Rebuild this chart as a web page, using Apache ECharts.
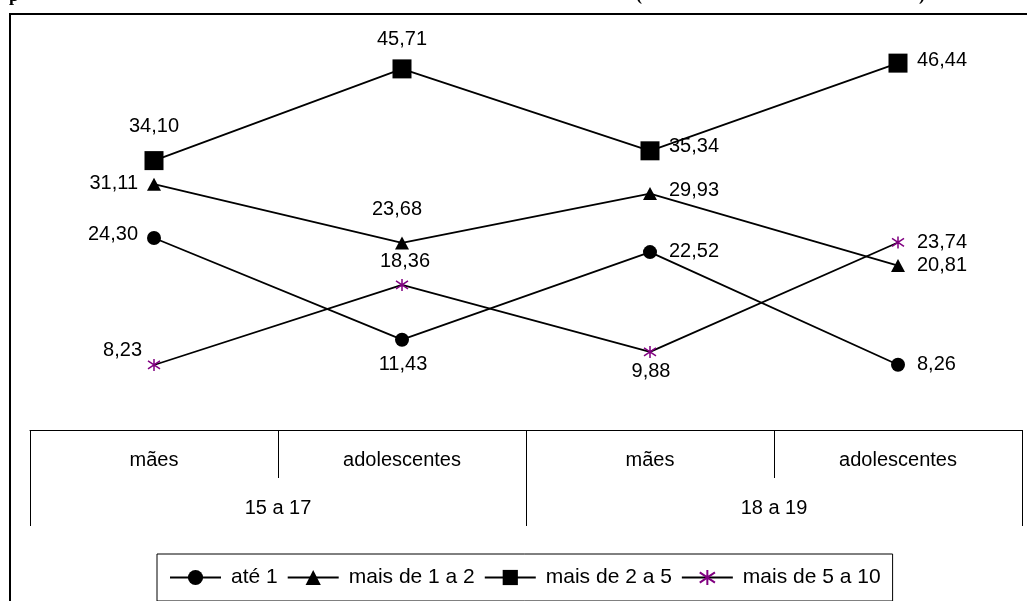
<!DOCTYPE html>
<html>
<head>
<meta charset="utf-8">
<script src="https://cdn.jsdelivr.net/npm/echarts@6/dist/echarts.min.js"></script>
<style>html,body{margin:0;padding:0;background:#fff;}#c{width:1027px;height:601px;}</style>
</head>
<body>
<div id="c"></div>
<script>
// ---- data ----
const categories = ['mães', 'adolescentes', 'mães', 'adolescentes'];
const groups = ['15 a 17', '18 a 19'];
const seriesNames = ['até 1', 'mais de 1 a 2', 'mais de 2 a 5', 'mais de 5 a 10'];
const ate1 = [24.30, 11.43, 22.52, 8.26];
const de1a2 = [31.11, 23.68, 29.93, 20.81];
const de2a5 = [34.10, 45.71, 35.34, 46.44];
const de5a10 = [8.23, 18.36, 9.88, 23.74];

// ---- label placement (style only) ----
const placeAte1 = [{a:'right',dx:-16,dy:-4},{a:'center',dx:1,dy:25},{a:'left',dx:19,dy:-1},{a:'left',dx:19,dy:0}];
const place1a2 = [{a:'right',dx:-16,dy:-1},{a:'center',dx:-5,dy:-33},{a:'left',dx:19,dy:-3},{a:'left',dx:19,dy:0}];
const place2a5 = [{a:'center',dx:0,dy:-34},{a:'center',dx:0,dy:-29},{a:'left',dx:19,dy:-4},{a:'left',dx:19,dy:-3}];
const place5a10 = [{a:'right',dx:-12,dy:-14},{a:'center',dx:3,dy:-23},{a:'center',dx:1,dy:20},{a:'left',dx:19,dy:0}];

const FONT = 'Liberation Sans, Arial, sans-serif';
const fmt = v => v.toFixed(2).replace('.', ',');

function buildData(values, places) {
  return values.map((v, i) => ({
    value: v,
    label: { align: places[i].a, offset: [places[i].dx, places[i].dy] }
  }));
}

function mkSeries(name, values, places, symbol, size, itemStyle) {
  return {
    name: name,
    type: 'line',
    data: buildData(values, places),
    symbol: symbol,
    symbolSize: size,
    showAllSymbol: true,
    lineStyle: { color: '#000', width: 1.8 },
    itemStyle: itemStyle,
    label: {
      show: true,
      position: 'inside',
      verticalAlign: 'middle',
      color: '#000',
      fontFamily: FONT,
      fontSize: 20,
      formatter: p => fmt(p.value)
    },
    emphasis: { disabled: true },
    animation: false
  };
}

const chart = echarts.init(document.getElementById('c'), null, { renderer: 'canvas' });
chart.setOption({
  backgroundColor: '#fff',
  animation: false,
  grid: { left: 30, right: 5, top: 35, bottom: 171, containLabel: false },
  xAxis: [
    {
      type: 'category',
      data: categories,
      position: 'bottom',
      boundaryGap: true,
      axisLine: { show: true, lineStyle: { color: '#000', width: 1 } },
      axisTick: { show: true, interval: 0, length: 48, lineStyle: { color: '#000', width: 1 } },
      axisLabel: { interval: 0, margin: 20, color: '#000', fontFamily: FONT, fontSize: 20 },
      splitLine: { show: false }
    },
    {
      type: 'category',
      data: groups,
      position: 'bottom',
      boundaryGap: true,
      axisLine: { show: false },
      axisTick: { show: true, interval: 0, length: 96, lineStyle: { color: '#000', width: 1 } },
      axisLabel: { interval: 0, margin: 68, color: '#000', fontFamily: FONT, fontSize: 20 },
      splitLine: { show: false }
    }
  ],
  yAxis: {
    type: 'value', min: 0, max: 50, show: false, splitLine: { show: false }
  },
  legend: {
    left: 157,
    top: 554,
    orient: 'horizontal',
    padding: [13, 12, 13, 12],
    borderColor: '#000',
    borderWidth: 1,
    itemWidth: 51,
    itemHeight: 19,
    itemGap: 9,
    textStyle: { color: '#000', fontFamily: FONT, fontSize: 21, padding: [0, 5, 0, 5] },
    data: seriesNames
  },
  graphic: [
    {
      type: 'polyline',
      shape: { points: [[10, 601], [10, 14], [1027, 14]] },
      style: { stroke: '#000', lineWidth: 2, fill: null },
      silent: true
    },
    { type: 'text', x: 9, y: -4, style: { text: 'p', font: 'bold 18px Liberation Serif, serif', fill: '#000', verticalAlign: 'middle' }, silent: true },
    { type: 'text', x: 636, y: -5, style: { text: '(', font: 'bold 18px Liberation Serif, serif', fill: '#000', verticalAlign: 'middle' }, silent: true },
    { type: 'text', x: 919, y: -5, style: { text: ')', font: 'bold 18px Liberation Serif, serif', fill: '#000', verticalAlign: 'middle' }, silent: true }
  ],
  series: [
    mkSeries(seriesNames[0], ate1, placeAte1, 'circle', 14, { color: '#000' }),
    mkSeries(seriesNames[1], de1a2, place1a2, 'triangle', [14, 13], { color: '#000' }),
    mkSeries(seriesNames[2], de2a5, place2a5, 'rect', 19, { color: '#000' }),
    mkSeries(seriesNames[3], de5a10, place5a10,
      'path://M6,0 L6,12 M1,2 L11,10 M1,10 L11,2', 12,
      { color: '#800080', borderColor: '#800080', borderWidth: 1.5 })
  ]
});
</script>
</body>
</html>
